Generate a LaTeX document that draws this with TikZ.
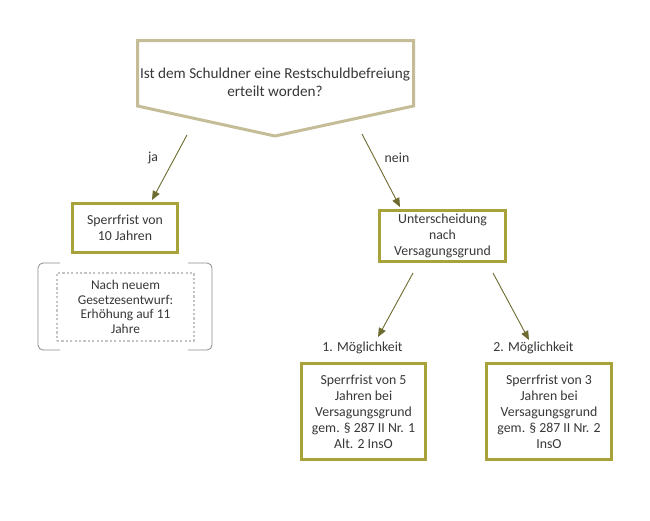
\documentclass[tikz,border=0pt]{standalone}
\usepackage{fontspec}
\setmainfont{Carlito}
\usetikzlibrary{arrows.meta}
\definecolor{tanline}{HTML}{C4BD97}
\definecolor{oliveline}{HTML}{A8A23A}
\definecolor{arrowcol}{HTML}{6E6B30}
\definecolor{txt}{HTML}{383838}
\definecolor{brk}{HTML}{8C8C8C}
\definecolor{dotcol}{HTML}{C4C4C4}
\tikzset{
  olivebox/.style={draw=oliveline, line width=3pt, fill=white, text=txt, align=center, inner sep=0pt,
    font=\fontsize{13.8}{16}\selectfont},
  lbl/.style={text=txt, inner sep=0pt, font=\fontsize{13.8}{16}\selectfont},
  conn/.style={draw=arrowcol, line width=0.9pt, -{Triangle[length=9pt,width=7.5pt]}},
  brack/.style={draw=brk, line width=0.8pt, rounded corners=5pt},
}
\begin{document}
\begin{tikzpicture}[x=1pt,y=-1pt]
\useasboundingbox[fill=white] (0,0) rectangle (650,520);
% pentagon
\draw[draw=tanline, line width=3pt, line join=miter] (137.5,40.5) -- (413.5,40.5) -- (413.5,106) -- (275,136) -- (137.5,106) -- cycle;
\node[text=txt, align=center, font=\fontsize{15.2}{18}\selectfont, inner sep=0pt] (q) at (275,82) {Ist dem Schuldner eine Restschuldbefreiung\\erteilt worden?};
% boxes
\node[olivebox, minimum width=105pt, minimum height=49pt] (ten) at (125,228) {Sperrfrist von\\10 Jahren};
\node[olivebox, minimum width=126pt, minimum height=51pt] (unt) at (442.5,236) {Unterscheidung\\nach\\Versagungsgrund};
\node[olivebox, minimum width=124pt, minimum height=96pt] (five) at (363.5,411.5) {Sperrfrist von 5\\Jahren bei\\Versagungsgrund\\gem. \S\ 287 II Nr. 1\\Alt. 2 InsO};
\node[olivebox, minimum width=125pt, minimum height=96pt] (three) at (549,411.5) {Sperrfrist von 3\\Jahren bei\\Versagungsgrund\\gem. \S\ 287 II Nr. 2\\InsO};
% dotted box
\node[draw=dotcol, line width=2.5pt, dash pattern=on 2.2pt off 2.2pt, text=txt, align=center, inner sep=0pt,
  minimum width=137pt, minimum height=68pt, font=\fontsize{13.4}{14.5}\selectfont] (neu) at (125.5,307) {Nach neuem\\Gesetzesentwurf:\\Erhöhung auf 11\\Jahre};
% brackets
\coordinate (bl1) at (60,263);
\coordinate (bl2) at (38,263);
\coordinate (bl3) at (38,350);
\coordinate (bl4) at (60,350);
\draw[brack] (bl1) -- (bl2) -- (bl3) -- (bl4);
\coordinate (br1) at (188,263);
\coordinate (br2) at (212,263);
\coordinate (br3) at (212,350);
\coordinate (br4) at (188,350);
\draw[brack] (br1) -- (br2) -- (br3) -- (br4);
% labels
\node[lbl] (ja) at (153,158) {ja};
\node[lbl] (nein) at (397,158) {nein};
\node[lbl] (m1) at (362.5,348) {1. Möglichkeit};
\node[lbl] (m2) at (533.5,348) {2. Möglichkeit};
% connectors
\coordinate (jaS) at (187,135);
\coordinate (jaE) at (152,200);
\draw[conn] (jaS) -- (jaE);
\coordinate (neS) at (362,134);
\coordinate (neE) at (400,207);
\draw[conn] (neS) -- (neE);
\coordinate (u1S) at (413,273);
\coordinate (u1E) at (378,337);
\draw[conn] (u1S) -- (u1E);
\coordinate (u2S) at (493,273);
\coordinate (u2E) at (529,340);
\draw[conn] (u2S) -- (u2E);
\end{tikzpicture}
\end{document}
